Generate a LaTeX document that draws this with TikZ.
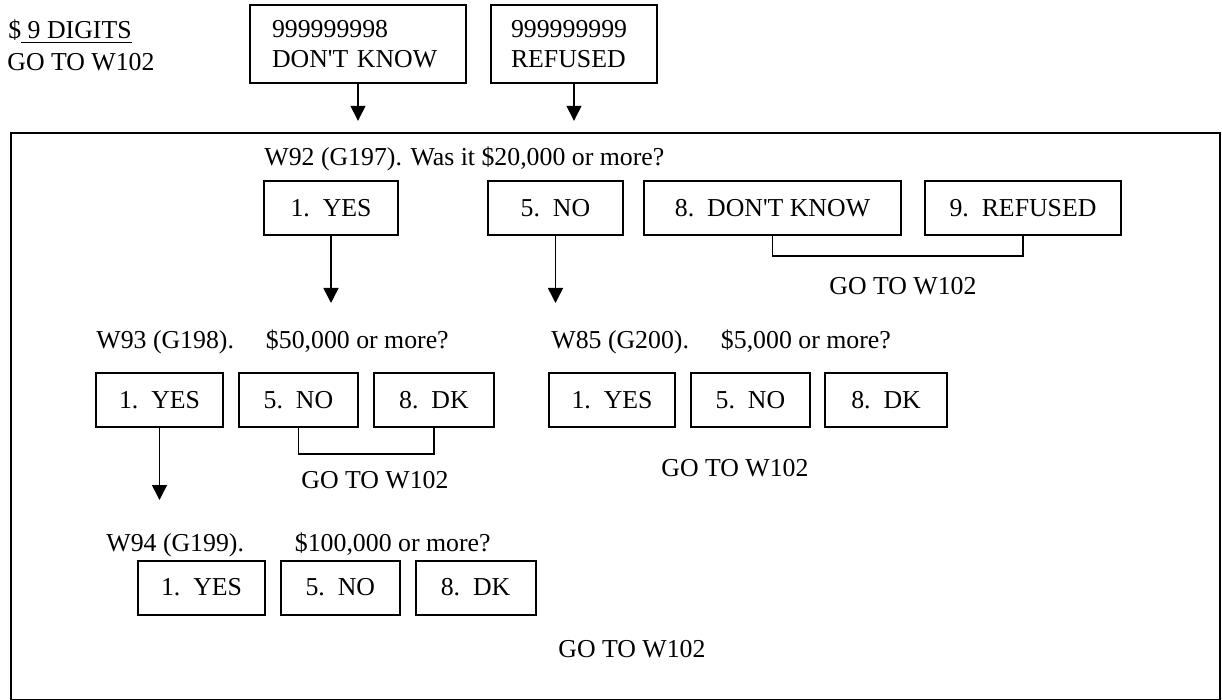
\documentclass[tikz,border=0pt]{standalone}
\usepackage{fontspec}
\setmainfont{Liberation Serif}
\usepackage{tikz}
\usetikzlibrary{arrows.meta, positioning}
\tikzstyle{codebox} = [rectangle, draw=black, line width=1pt, minimum height=39pt, align=left]
\tikzstyle{answer} = [rectangle, draw=black, line width=1pt, minimum width=60pt, minimum height=27pt, inner sep=0pt, align=center]
\tikzstyle{question} = [anchor=base west, inner sep=0pt]
\tikzstyle{bracket} = [line width=0.75pt]
\tikzstyle{arrow} = [line width=0.75pt, -{Triangle[length=7.5pt, width=7.5pt]}]

\begin{document}
\begin{tikzpicture}[x=0.5pt, y=-0.5pt, font=\fontsize{12.9}{15}\selectfont]
\useasboundingbox (0,0) rectangle (1222,700);

% amount and the two codes above the frame
\node (amount) [question] at (8,39) {\$\underline{\ 9 DIGITS}};
\node (amountgo) [question] at (7,71) {GO TO W102};
\node (dkcode) [codebox, text width=86pt, inner xsep=11pt] at (358,44) {999999998\\DON\textquotesingle T KNOW};
\node (refcode) [codebox, text width=63pt, inner xsep=10pt] at (574,44) {999999999\\REFUSED};

\node (panel) [draw, line width=1.2pt, minimum width=604.5pt, minimum height=283.5pt, inner sep=0pt] at (615.5,416.5) {};
\draw [arrow, shorten >=5.5pt] (dkcode) -- (dkcode |- panel.north);
\draw [arrow, shorten >=5.5pt] (refcode) -- (refcode |- panel.north);

% W92
\node (w92) [question] at (264,166) {W92 (G197). Was it \$20,000 or more?};
\node (yes1) [answer, minimum width=67.2pt] at (331,208) {1.\ \ YES};
\node (no1) [answer, minimum width=67.5pt] at (555.5,208) {5.\ \ NO};
\node (dk1) [answer, minimum width=128.5pt, right=9.5pt of no1] {8.\ \ DON\textquotesingle T KNOW};
\node (ref1) [answer, minimum width=98pt, right=11pt of dk1] {9.\ \ REFUSED};
\draw [bracket] (dk1.south) -- ++(0,20) -| (ref1.south);
\node (go1) [question] at (829,295) {GO TO W102};

\coordinate (tip1) at (332,303);
\draw [arrow] (yes1.south) -- (yes1.south |- tip1);
\draw [arrow] (no1.south) -- (no1.south |- tip1);

% W93 and W85
\node (w93) [question] at (96,349) {W93 (G198).\hspace{16pt}\$50,000 or more?};
\node (yes2) [answer, minimum width=63.5pt] at (159.5,400) {1.\ \ YES};
\node (no2) [answer, minimum width=59.5pt, right=7pt of yes2] {5.\ \ NO};
\node (dk2) [answer, right=7pt of no2] {8.\ \ DK};
\draw [bracket] (no2.south) -- ++(0,26) -| (dk2.south);
\node (go2) [question] at (301,488) {GO TO W102};

\node (w85) [question] at (551,349) {W85 (G200).\hspace{16pt}\$5,000 or more?};
\node (yes3) [answer, minimum width=63pt] at (612,400) {1.\ \ YES};
\node (no3) [answer, minimum width=59.5pt, right=7pt of yes3] {5.\ \ NO};
\node (dk3) [answer, minimum width=61pt, right=6.5pt of no3] {8.\ \ DK};
\node (go3) [question] at (661,476) {GO TO W102};

\coordinate (tip2) at (158,500);
\draw [arrow] (yes2.south) -- (yes2.south |- tip2);

% W94
\node (w94) [question] at (106,552) {W94 (G199).\hspace{25.5pt}\$100,000 or more?};
\node (yes4) [answer, minimum width=63.5pt] at (201.5,587.5) {1.\ \ YES};
\node (no4) [answer, minimum width=59.3pt, right=7pt of yes4] {5.\ \ NO};
\node (dk4) [answer, right=7pt of no4] {8.\ \ DK};
\node (go4) [question] at (558,657) {GO TO W102};
\end{tikzpicture}
\end{document}
